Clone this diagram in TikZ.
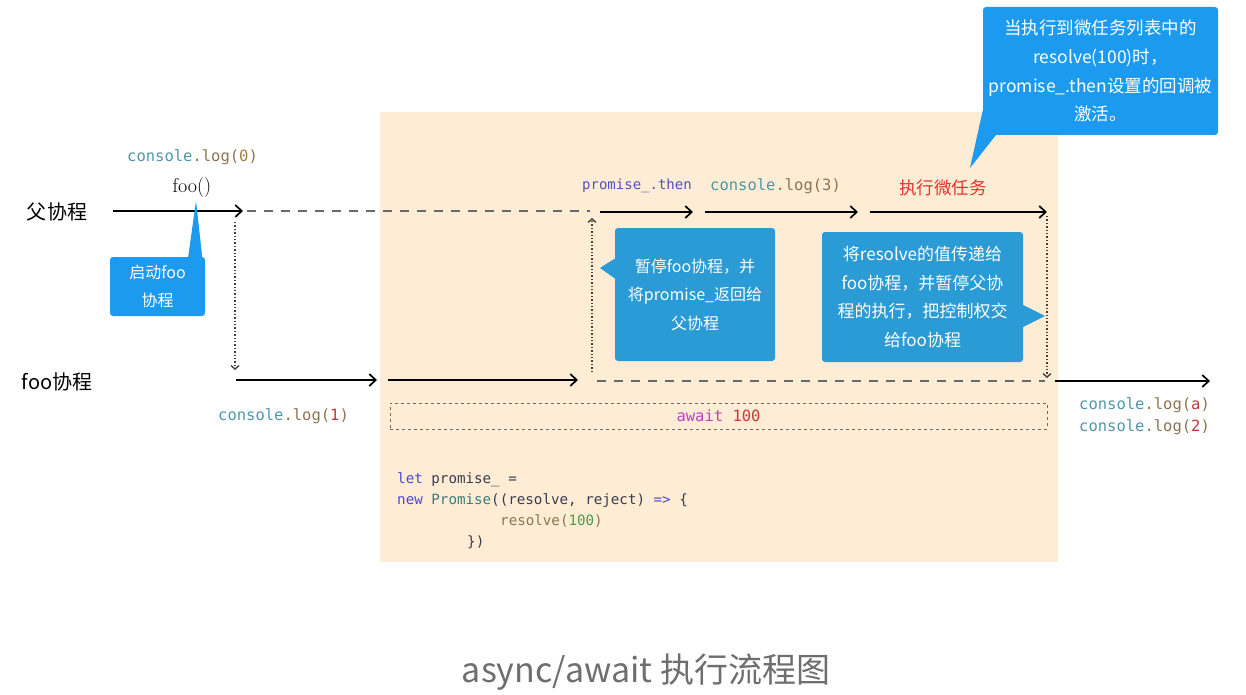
\documentclass[tikz,border=0pt]{standalone}
\usepackage{fontspec}
\usepackage{tikz}
\usetikzlibrary{arrows.meta, positioning, calc}
\newfontfamily\cjk{Noto Sans CJK SC}
\newfontfamily\codefont{DejaVu Sans Mono}
\definecolor{peach}{RGB}{254,236,212}
\definecolor{tipblue}{RGB}{27,154,240}
\definecolor{boxblue}{RGB}{42,155,212}
\definecolor{logteal}{RGB}{79,151,168}
\definecolor{logbrown}{RGB}{140,116,80}
\definecolor{logred}{RGB}{192,58,58}
\definecolor{loggold}{RGB}{160,128,64}
\definecolor{thenpurple}{RGB}{80,80,192}
\definecolor{taskred}{RGB}{232,50,43}
\definecolor{awaitmag}{RGB}{192,64,192}
\definecolor{kwblue}{RGB}{72,72,216}
\definecolor{vardark}{RGB}{58,58,80}
\definecolor{clsteal}{RGB}{60,122,120}
\definecolor{numgreen}{RGB}{74,154,74}
\definecolor{linegray}{RGB}{105,105,105}
\definecolor{titlegray}{RGB}{110,110,110}
\newcommand\conslog[2]{{\color{logteal}console}{\color{logbrown}.log(}{\color{#2}#1}{\color{logbrown})}}

\begin{document}
\begin{tikzpicture}[x=1pt, y=-1pt, every node/.style={inner sep=0pt},
  flow/.style={line width=1.7pt, -{Straight Barb[length=6.5pt, width=12pt]}},
  hop/.style={line width=1.4pt, dotted, black!75, -{Straight Barb[length=3.5pt, width=8pt]}},
  wait/.style={line width=1.5pt, linegray, dash pattern=on 9pt off 8pt},
  code/.style={font=\codefont\fontsize{15.5}{18}\selectfont},
  bubble/.style={fill=#1, rounded corners=3pt, text=white, align=center,
    font=\cjk\fontsize{16}{28.5}\selectfont}]
  \useasboundingbox (0,0) rectangle (1246,695);
  \fill[peach] (380,112) rectangle (1058,562);

  \node[font=\cjk\fontsize{20}{24}\selectfont] (main) at (57,212) {父协程};
  \node[font=\cjk\fontsize{20}{24}\selectfont] (foo) at (57,382) {foo协程};

  \coordinate (pa) at (113,211);
  \coordinate (pb) at (243,211);
  \coordinate (pc) at (247,211);
  \coordinate (pd) at (590,211);
  \coordinate (da) at (235,222);
  \coordinate (db) at (235,370);
  \coordinate (fa) at (236,380);
  \coordinate (fb) at (377,380);
  \coordinate (fc) at (388,380);
  \coordinate (fd) at (578,380);
  \coordinate (ua) at (592,372);
  \coordinate (ub) at (592,218);
  \coordinate (ta) at (600,212);
  \coordinate (tb) at (693,212);
  \coordinate (tc) at (705,212);
  \coordinate (td) at (858,212);
  \coordinate (te) at (870,212);
  \coordinate (tf) at (1047,212);
  \coordinate (va) at (1047,216);
  \coordinate (vb) at (1047,378);
  \coordinate (ga) at (597,381);
  \coordinate (gb) at (1045,381);
  \coordinate (ha) at (1055,381);
  \coordinate (hb) at (1210,381);

  \draw[flow] (pa) -- (pb);
  \draw[wait] (pc) -- (pd);
  \draw[hop] (da) -- (db);
  \draw[flow] (fa) -- (fb);
  \draw[flow] (fc) -- (fd);
  \draw[hop] (ua) -- (ub);
  \draw[flow] (ta) -- (tb);
  \draw[flow] (tc) -- (td);
  \draw[flow] (te) -- (tf);
  \draw[hop] (va) -- (vb);
  \draw[wait] (ga) -- (gb);
  \draw[flow] (ha) -- (hb);

  \node[code, anchor=west] (log0) at (127,157) {\conslog{0}{loggold}};
  \node[font=\fontsize{20}{24}\selectfont] (call) at (192,188) {foo()};
  \node[code, anchor=west] (log1) at (218,416) {\conslog{1}{logred}};
  \node[code, anchor=west, font=\codefont\fontsize{14}{18}\selectfont, text=thenpurple] (then) at (582,186) {promise\_.then};
  \node[code, anchor=west] (log3) at (710,186) {\conslog{3}{logbrown}};
  \node[font=\cjk\fontsize{17.5}{20}\selectfont, text=taskred] (task) at (943,188) {执行微任务};
  \node[code, anchor=west] (loga) at (1079,405) {\conslog{a}{logred}};
  \node[code, anchor=west] (log2) at (1079,427) {\conslog{2}{logred}};

  \node[draw=linegray, dashed, line width=0.9pt, minimum width=657pt, minimum height=26pt, code] (await) at (718.5,416)
    {{\color{awaitmag}await} {\color{logred}100}};

  \node[anchor=north west, align=left, font=\codefont\fontsize{14.2}{21}\selectfont, text=vardark] (promise) at (397,472)
    {{\color{kwblue}let} promise\_ =\\
     {\color{kwblue}new} {\color{clsteal}Promise}((resolve, reject) {\color{kwblue}=>} \{\\
     \hspace*{103pt}{\color{logbrown}resolve(}{\color{numgreen}100}{\color{logbrown})}\\
     \hspace*{70pt}\})};

  \node[bubble=tipblue, minimum width=95pt, minimum height=59pt] (start) at (157.5,286.5) {启动foo\\协程};
  \fill[tipblue] ($(start.north east)+(-17,0)$) -- (196,201) -- ($(start.north east)+(-3,0)$) -- cycle;

  \node[bubble=boxblue, minimum width=160pt, minimum height=133pt] (pause) at (695,294.5)
    {暂停foo协程，并\\将promise\_返回给\\父协程};
  \fill[boxblue] ($(pause.west)+(0,-36)$) -- (600,268) -- ($(pause.west)+(0,-16)$) -- cycle;

  \node[bubble=boxblue, minimum width=201pt, minimum height=130pt, font=\cjk\fontsize{17}{28.5}\selectfont] (pass) at (922.5,297)
    {将resolve的值传递给\\foo协程，并暂停父协\\程的执行，把控制权交\\给foo协程};
  \fill[boxblue] ($(pass.east)+(0,8)$) -- (1045,316) -- ($(pass.east)+(0,30)$) -- cycle;

  \node[bubble=tipblue, minimum width=235pt, minimum height=128pt, font=\cjk\fontsize{17.5}{28.8}\selectfont] (micro) at (1100.5,71)
    {当执行到微任务列表中的\\resolve(100)时，\\promise\_.then设置的回调被\\激活。};
  \fill[tipblue] ($(micro.south west)+(0,-25)$) -- (970,168) -- ($(micro.south west)+(13,0)$) -- cycle;

  \node[font=\cjk\fontsize{34}{40}\selectfont, text=titlegray] (title) at (646,672) {async/await 执行流程图};
\end{tikzpicture}
\end{document}
